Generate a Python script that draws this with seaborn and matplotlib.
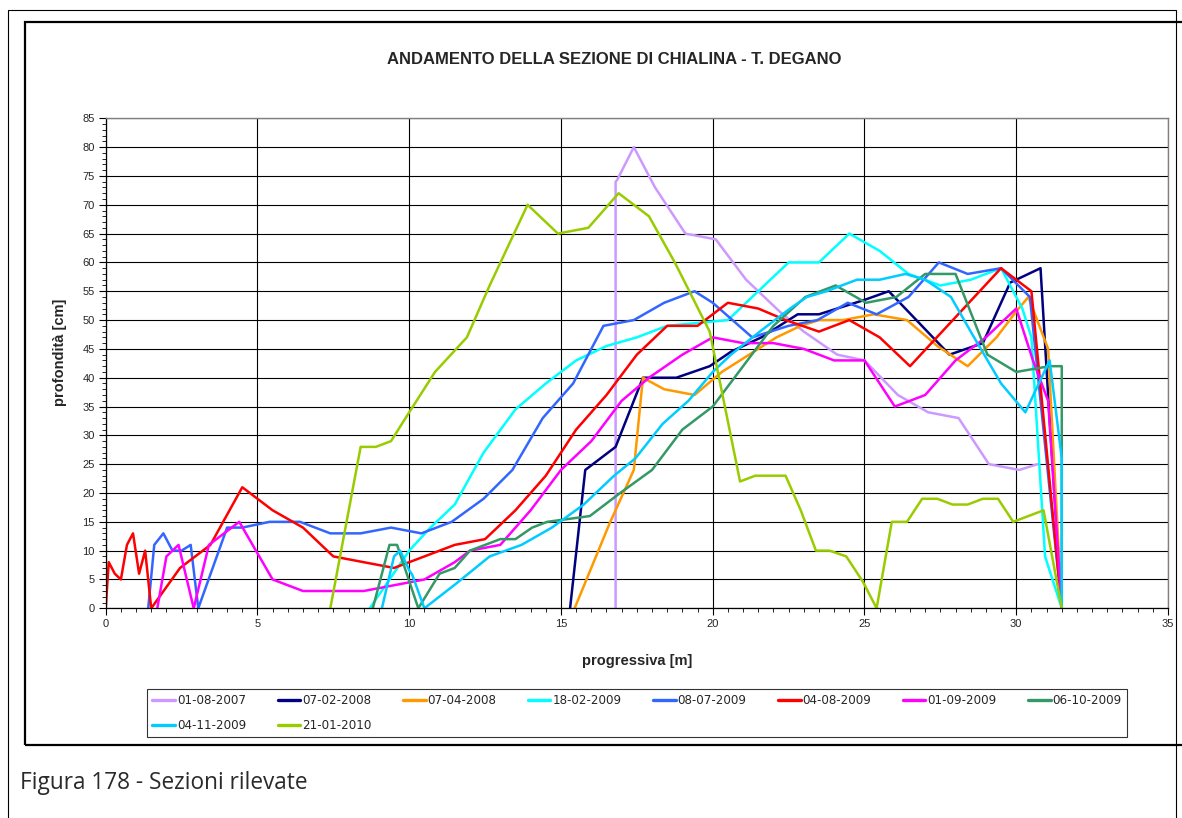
import matplotlib
matplotlib.use("Agg")
import matplotlib.pyplot as plt
from matplotlib.lines import Line2D
from matplotlib.patches import Rectangle
from matplotlib.ticker import MultipleLocator
import pandas as pd
import seaborn as sns

# Survey dates and line colours
dates = ["01-08-2007", "07-02-2008", "07-04-2008", "18-02-2009", "08-07-2009",
         "04-08-2009", "01-09-2009", "06-10-2009", "04-11-2009", "21-01-2010"]
colors = ["#CC99FF", "#000080", "#FF9900", "#00FFFF", "#3366FF",
          "#FF0000", "#FF00FF", "#339966", "#00CCFF", "#99CC00"]

# Cross sections: progressiva [m] / profondita [cm]
x_20070801 = [16.8, 16.8, 16.85, 17.4, 18.1, 19.1, 20.1, 21.1, 22.2, 23.0, 24.1, 25.0,
              26.1, 27.1, 28.1, 29.1, 30.1, 30.7]
y_20070801 = [0, 74, 74.3, 80, 73, 65, 64, 57, 51.5, 48, 44, 43, 37, 34, 33, 25, 24, 25]

x_20080207 = [15.3, 15.8, 16.8, 17.7, 18.8, 19.9, 20.6, 21.6, 22.8, 23.5, 25.0, 25.8,
              27.8, 28.9, 29.8, 30.8, 31.05, 31.5]
y_20080207 = [0, 24, 28, 40, 40, 42, 44.5, 47, 51, 51, 53.5, 55, 44, 46, 56.5, 59, 37, 0]

x_20080407 = [15.45, 16.6, 17.4, 17.7, 18.4, 19.4, 20.3, 21.2, 22.1, 22.9, 23.5, 24.3,
              25.3, 26.4, 27.4, 28.4, 29.35, 30.0, 30.4, 31.05, 31.5]
y_20080407 = [0, 14.7, 24, 40, 38, 37, 41, 44, 47, 49, 50, 50, 51, 50, 45.5, 42, 47,
              51.5, 54, 45, 0]

x_20090218 = [8.7, 10.0, 10.7, 11.5, 12.45, 13.5, 14.5, 15.5, 16.5, 17.5, 18.5, 19.5,
              20.5, 22.5, 23.5, 24.5, 25.5, 26.45, 27.5, 28.5, 29.5, 30.2, 30.5, 30.95, 31.5]
y_20090218 = [0, 10, 14, 18, 27, 34.5, 39, 43, 45.5, 47, 49, 49.5, 50, 60, 60, 65, 62,
              58, 56, 57, 59, 52, 47, 9, 0]

x_20090708 = [1.4, 1.6, 1.9, 2.2, 2.5, 2.8, 3.05, 4.0, 4.5, 5.4, 6.4, 7.4, 8.4, 9.4,
              10.4, 11.4, 12.45, 13.4, 14.4, 15.4, 16.4, 17.4, 18.4, 19.4, 20.0, 21.3,
              22.5, 23.45, 24.45, 25.4, 26.45, 27.45, 28.4, 29.5, 30.45, 31.5]
y_20090708 = [0, 11, 13, 10, 10, 11, 0, 14, 14, 15, 15, 13, 13, 14, 13, 15, 19, 24, 33,
              39, 49, 50, 53, 55, 53, 47, 49, 50, 53, 51, 54, 60, 58, 59, 54, 0]

x_20090804 = [0, 0.1, 0.3, 0.5, 0.7, 0.9, 1.1, 1.3, 1.5, 2.45, 3.45, 4.5, 5.5, 6.5,
              7.5, 8.5, 9.5, 10.0, 11.5, 12.5, 13.5, 14.5, 15.5, 16.5, 17.5, 18.5,
              19.5, 20.5, 21.5, 22.4, 23.5, 24.5, 25.5, 26.5, 29.5, 30.5, 31.5]
y_20090804 = [0, 8, 6, 5, 11, 13, 6, 10, 0, 7, 11, 21, 17, 14, 9, 8, 7, 8, 11, 12, 17,
              23, 31, 37, 44, 49, 49, 53, 52, 50, 48, 50, 47, 42, 59, 55, 0]

x_20090901 = [1.7, 2.0, 2.4, 2.9, 3.4, 4.4, 5.5, 6.5, 7.5, 8.5, 9.5, 10.5, 11.5, 12.0,
              13.0, 14.0, 15.0, 16.0, 17.0, 17.9, 19.0, 20.0, 21.0, 22.0, 23.0, 24.0,
              25.0, 26.0, 27.0, 28.0, 29.0, 30.0, 30.55, 31.05, 31.5]
y_20090901 = [0, 9, 11, 0, 11, 15, 5, 3, 3, 3, 4, 5, 8, 10, 11, 17, 24, 29, 36, 40,
              44, 47, 46, 46, 45, 43, 43, 35, 37, 43, 47, 52, 43, 36, 0]

x_20091006 = [8.8, 9.35, 9.6, 10.3, 11.0, 11.5, 12.0, 13.0, 13.5, 14.05, 14.55, 15.95,
              16.95, 18.0, 19.0, 20.0, 21.0, 22.0, 23.05, 24.05, 25.05, 26.05, 27.0,
              28.0, 29.05, 30.0, 31.1, 31.5, 31.5]
y_20091006 = [0, 11, 11, 0, 6, 7, 10, 12, 12, 14, 15, 16, 20, 24, 31, 35, 42, 49, 54,
              56, 53, 54, 58, 58, 44, 41, 42, 42, 0]

x_20091104 = [9.1, 9.5, 9.7, 10.0, 10.1, 10.5, 11.55, 12.65, 13.7, 14.7, 15.75, 16.75,
              17.45, 18.35, 19.2, 20.0, 20.6, 21.55, 22.55, 23.1, 23.75, 24.75, 25.5,
              26.35, 27.0, 27.85, 28.5, 29.5, 30.3, 31.1, 31.5, 31.5]
y_20091104 = [0, 9, 10, 6.6, 5.8, 0, 4.3, 9, 11, 14, 18, 23, 26, 32, 36, 41, 44, 48,
              52, 54, 55, 57, 57, 58, 57, 54, 48, 39, 34, 43, 26, 0]

x_20100121 = [7.4, 8.4, 8.9, 9.4, 10.0, 10.85, 11.9, 12.65, 13.9, 14.9, 15.9, 16.9,
              17.9, 18.75, 19.9, 20.9, 21.4, 22.4, 22.9, 23.4, 23.85, 24.4, 24.95, 25.4,
              25.9, 26.4, 26.9, 27.4, 27.9, 28.4, 28.9, 29.4, 29.9, 30.9, 31.5]
y_20100121 = [0, 28, 28, 29, 34, 41, 47, 56, 70, 65, 66, 72, 68, 60, 48, 22, 23, 23,
              17, 10, 10, 9, 4.6, 0, 15, 15, 19, 19, 18, 18, 19, 19, 15, 17, 0]

xs = [x_20070801, x_20080207, x_20080407, x_20090218, x_20090708,
      x_20090804, x_20090901, x_20091006, x_20091104, x_20100121]
ys = [y_20070801, y_20080207, y_20080407, y_20090218, y_20090708,
      y_20090804, y_20090901, y_20091006, y_20091104, y_20100121]

frames = []
for d, xv, yv in zip(dates, xs, ys):
    frames.append(pd.DataFrame({"progressiva": xv, "profondita": yv, "rilievo": d}))
df = pd.concat(frames, ignore_index=True)

sns.set_theme(style="white")
plt.rcParams["font.family"] = ["Liberation Sans", "DejaVu Sans"]

W, H = 1182, 818
fig = plt.figure(figsize=(W / 100, H / 100), dpi=100)
fig.patch.set_facecolor("white")

# plot area in pixel coordinates
px_l, px_r, px_t, px_b = 105.7, 1168.0, 118.3, 608.3
ax = fig.add_axes([px_l / W, 1 - px_b / H, (px_r - px_l) / W, (px_b - px_t) / H])

palette = dict(zip(dates, colors))
sns.lineplot(data=df, x="progressiva", y="profondita", hue="rilievo",
             hue_order=dates, palette=palette, sort=False, estimator=None,
             linewidth=1.8, legend=False, ax=ax)

ax.set_xlim(0, 35)
ax.set_ylim(0, 85)
ax.set_xticks(range(0, 36, 5))
ax.set_yticks(range(0, 86, 5))
ax.xaxis.set_minor_locator(MultipleLocator(0.5))
ax.yaxis.set_minor_locator(MultipleLocator(1))
ax.tick_params(axis="both", which="major", direction="out", length=5, width=0.8,
               color="black", labelsize=8, pad=3, bottom=True, left=True)
ax.tick_params(axis="both", which="minor", direction="out", length=3, width=0.6,
               color="black", bottom=True, left=True)
ax.grid(True, which="major", color="black", linewidth=0.8)
ax.set_axisbelow(True)
for side in ["top", "right"]:
    ax.spines[side].set_color("#808080")
    ax.spines[side].set_linewidth(1.0)
for side in ["left", "bottom"]:
    ax.spines[side].set_color("black")
    ax.spines[side].set_linewidth(0.9)
ax.set_xlabel("")
ax.set_ylabel("")

fig.text(60 / W, 1 - 352 / H, "profondità [cm]", rotation=90, ha="center",
         va="center", fontsize=10.5, fontweight="bold")
fig.text(637 / W, 1 - 661 / H, "progressiva [m]", ha="center", va="center",
         fontsize=10.5, fontweight="bold")
fig.text(614 / W, 1 - 60 / H, "ANDAMENTO DELLA SEZIONE DI CHIALINA - T. DEGANO",
         ha="center", va="center", fontsize=12, fontweight="bold")

# legend entries laid out row by row (8 per row)
order = [0, 8, 1, 9, 2, 3, 4, 5, 6, 7]
handles = [Line2D([0], [0], color=colors[i], lw=2.4) for i in order]
labels = [dates[i] for i in order]
leg = fig.legend(handles, labels, loc="upper left", ncol=8, mode="expand",
                 bbox_to_anchor=(147 / W, 1 - 690 / H, 980 / W, 1 / H),
                 borderaxespad=0, frameon=True, fancybox=False,
                 prop={"family": "DejaVu Sans", "size": 8.6},
                 handlelength=1.9, handletextpad=0.15, columnspacing=0.3,
                 labelspacing=0.95, borderpad=0.45)
leg.get_frame().set_edgecolor("black")
leg.get_frame().set_linewidth(0.8)

# page and chart frames
fig.add_artist(Rectangle((8 / W, -0.01), (1176 - 8) / W, 1.01 - 10 / H,
                         transform=fig.transFigure, fill=False, lw=0.8, ec="black"))
fig.add_artist(Rectangle((25 / W, 1 - 745 / H), 1.02, (745 - 22) / H,
                         transform=fig.transFigure, fill=False, lw=1.6, ec="black"))

fig.text(20 / W, 1 - 783 / H, "Figura 178 - Sezioni rilevate", ha="left",
         va="center", fontsize=16.3, color="#2a2a2a", family=["Open Sans", "DejaVu Sans"])

fig.savefig("out.png", dpi=100, facecolor="white")
